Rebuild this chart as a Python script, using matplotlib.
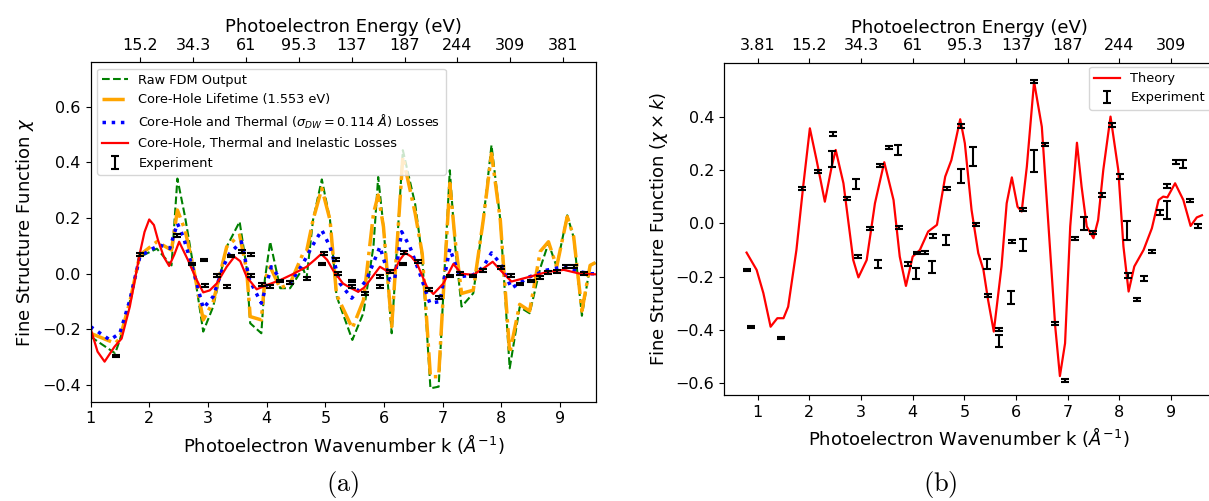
import numpy as np
import matplotlib
matplotlib.use("Agg")
import matplotlib.pyplot as plt

plt.rcParams['mathtext.fontset'] = 'dejavusans'

# ---------------- Data: panel (a) ----------------
k_fdm = [1.0, 1.42, 1.5, 1.67, 1.84, 2.13, 2.38, 2.48, 2.61, 2.75, 2.92, 3.09, 3.32, 3.54,
         3.66, 3.72, 3.91, 3.97, 4.06, 4.23, 4.40, 4.62, 4.68, 4.79, 4.94, 5.08, 5.19, 5.46,
         5.65, 5.82, 5.90, 5.99, 6.13, 6.32, 6.53, 6.65, 6.79, 6.93, 7.01, 7.12, 7.21, 7.32,
         7.52, 7.69, 7.83, 7.98, 8.14, 8.31, 8.48, 8.66, 8.80, 8.94, 9.12, 9.23, 9.37, 9.51, 9.6]
raw_fdm = [-0.226, -0.286, -0.238, -0.10, 0.061, 0.09, 0.03, 0.342, 0.205, 0.03, -0.208, -0.118,
           0.097, 0.187, 0.02, -0.178, -0.214, -0.02, 0.115, -0.052, -0.052, 0.02, -0.017, 0.193,
           0.339, 0.193, -0.08, -0.238, -0.14, 0.10, 0.348, 0.17, -0.214, 0.444, 0.25, 0.06,
           -0.412, -0.406, -0.07, 0.372, 0.10, -0.118, -0.07, 0.193, 0.462, 0.193, -0.34, -0.12,
           -0.142, 0.02, 0.11, 0.025, 0.21, 0.13, -0.151, 0.03, 0.04]
core_hole = [-0.214, -0.25, -0.233, -0.101, 0.067, 0.115, 0.085, 0.229, 0.157, 0.025, -0.166,
             -0.101, 0.097, 0.139, 0.013, -0.154, -0.166, -0.02, 0.025, -0.052, -0.035, 0.073,
             0.08, 0.193, 0.307, 0.193, -0.075, -0.196, -0.095, 0.217, 0.283, 0.169, -0.19, 0.42,
             0.217, 0.073, -0.37, -0.37, -0.071, 0.325, 0.121, -0.071, -0.059, 0.193, 0.432,
             0.193, -0.286, -0.11, -0.134, 0.08, 0.115, 0.025, 0.205, 0.133, -0.134, 0.03, 0.04]

k_thermal = [1.0, 1.33, 1.50, 1.67, 1.84, 2.01, 2.18, 2.35, 2.48, 2.58, 2.75, 2.92, 3.09, 3.26,
             3.37, 3.57, 3.71, 3.91, 4.08, 4.25, 4.40, 4.62, 4.77, 4.94, 5.08, 5.25, 5.45, 5.70,
             5.93, 6.10, 6.18, 6.30, 6.44, 6.61, 6.78, 6.95, 7.12, 7.29, 7.52, 7.69, 7.83, 7.98,
             8.17, 8.48, 8.77, 9.06, 9.34, 9.51, 9.6]
thermal = [-0.19, -0.238, -0.214, -0.095, 0.061, 0.085, 0.103, 0.091, 0.181, 0.133, 0.013,
           -0.124, -0.082, 0.025, 0.073, 0.115, -0.023, -0.106, 0.025, -0.023, -0.035, 0.037,
           0.097, 0.157, 0.097, -0.035, -0.088, -0.023, 0.097, -0.023, -0.02, 0.151, 0.097, 0.0,
           -0.106, -0.100, 0.091, -0.011, -0.004, 0.025, 0.075, 0.037, -0.052, -0.011, 0.013,
           0.025, 0.007, 0.0, 0.0]

k_inel = [1.0, 1.12, 1.24, 1.41, 1.53, 1.67, 1.84, 1.92, 2.0, 2.08, 2.15, 2.25, 2.34, 2.43, 2.51,
          2.66, 2.81, 2.92, 3.03, 3.15, 3.32, 3.45, 3.55, 3.66, 3.83, 4.0, 4.23, 4.45, 4.68,
          4.82, 4.93, 5.03, 5.13, 5.30, 5.42, 5.56, 5.66, 5.76, 5.93, 6.04, 6.18, 6.27, 6.36,
          6.46, 6.56, 6.73, 6.84, 7.01, 7.18, 7.32, 7.52, 7.69, 7.85, 7.98, 8.17, 8.48, 8.77,
          9.06, 9.34, 9.6]
inel = [-0.196, -0.28, -0.316, -0.262, -0.233, -0.118, 0.073, 0.15, 0.195, 0.175, 0.121, 0.06,
        0.028, 0.07, 0.115, 0.049, -0.023, -0.067, -0.06, -0.035, 0.025, 0.061, 0.045, -0.011,
        -0.056, -0.041, -0.023, -0.001, 0.025, 0.05, 0.071, 0.05, 0.013, -0.035, -0.05, -0.065,
        -0.05, -0.023, 0.025, 0.011, 0.013, 0.05, 0.075, 0.062, 0.037, -0.047, -0.073, -0.035,
        0.035, 0.0, -0.004, 0.019, 0.043, 0.013, -0.028, -0.011, 0.006, 0.014, 0.0, -0.002]

k_exp_a = [1.44, 1.84, 2.48, 2.73, 2.93, 2.95, 3.15, 3.33, 3.39, 3.58, 3.73, 3.74, 3.92, 4.06,
           4.23, 4.40, 4.68, 4.94, 4.97, 5.19, 5.22, 5.45, 5.46, 5.67, 5.93, 5.93, 6.10, 6.34,
           6.33, 6.57, 6.76, 6.94, 7.13, 7.29, 7.52, 7.68, 8.0, 8.17, 8.32, 8.51, 8.65, 8.80,
           8.94, 9.10, 9.23, 9.40]
exp_a = [-0.296, 0.07, 0.137, 0.035, 0.049, -0.043, -0.007, -0.046, 0.064, 0.079, 0.07, -0.007,
         -0.038, -0.046, -0.026, -0.032, -0.017, 0.035, 0.074, 0.05, 0.0, -0.026, -0.046, -0.07,
         -0.01, -0.046, 0.007, 0.077, 0.035, 0.043, -0.056, -0.085, -0.008, 0.0, -0.008, 0.011,
         0.022, -0.005, -0.037, -0.026, -0.014, 0.004, 0.007, 0.025, 0.025, 0.0]

energy_ticks_a = [2, 3, 4, 5, 6, 7, 8, 9, 10]
energy_labels_a = ['15.2', '34.3', '61', '95.3', '137', '187', '244', '309', '381']

# ---------------- Data: panel (b) ----------------
k_theory = [0.785, 0.98, 1.11, 1.25, 1.38, 1.50, 1.59, 1.75, 1.88, 2.01, 2.14, 2.30, 2.43, 2.51,
            2.66, 2.85, 2.95, 3.11, 3.27, 3.45, 3.63, 3.75, 3.87, 4.00, 4.14, 4.30, 4.47, 4.63,
            4.75, 4.92, 5.01, 5.14, 5.27, 5.37, 5.46, 5.57, 5.72, 5.82, 5.92, 6.03, 6.11, 6.21,
            6.35, 6.50, 6.63, 6.76, 6.85, 6.95, 7.05, 7.18, 7.27, 7.37, 7.50, 7.59, 7.69, 7.83,
            7.98, 8.08, 8.18, 8.29, 8.47, 8.63, 8.76, 8.85, 8.93, 9.08, 9.24, 9.38, 9.50, 9.60]
theory = [-0.110, -0.175, -0.262, -0.388, -0.356, -0.356, -0.313, -0.10, 0.137, 0.356, 0.237,
          0.081, 0.21, 0.275, 0.15, -0.138, -0.203, -0.138, 0.075, 0.229, 0.087, -0.125, -0.235,
          -0.125, -0.10, -0.031, -0.006, 0.175, 0.237, 0.39, 0.30, 0.05, -0.112, -0.175, -0.288,
          -0.406, -0.162, 0.075, 0.172, 0.062, 0.044, 0.212, 0.531, 0.362, -0.012, -0.388,
          -0.573, -0.45, -0.012, 0.302, 0.137, -0.012, -0.056, 0.012, 0.20, 0.40, 0.20, -0.087,
          -0.256, -0.162, -0.10, -0.019, 0.087, 0.10, 0.097, 0.15, 0.087, -0.010, 0.022, 0.03]

k_exp_b = [0.80, 0.88, 1.45, 1.85, 2.17, 2.46, 2.43, 2.72, 2.91, 2.95, 3.17, 3.33, 3.37, 3.55,
           3.72, 3.73, 3.91, 4.08, 4.06, 4.24, 4.37, 4.40, 4.64, 4.66, 4.93, 4.93, 5.17, 5.22,
           5.44, 5.46, 5.68, 5.68, 5.92, 5.90, 6.13, 6.13, 6.35, 6.34, 6.56, 6.76, 6.95, 7.14,
           7.32, 7.50, 7.67, 7.85, 8.01, 8.15, 8.17, 8.34, 8.48, 8.64, 8.79, 8.93, 8.93, 9.09,
           9.24, 9.37, 9.52]
exp_b = [-0.175, -0.390, -0.429, 0.131, 0.194, 0.335, 0.24, 0.094, 0.148, -0.125, -0.019,
         -0.153, 0.216, 0.285, 0.275, -0.017, -0.153, -0.112, -0.188, -0.109, -0.163, -0.048,
         -0.063, 0.131, 0.365, 0.177, 0.25, -0.006, -0.153, -0.271, -0.397, -0.441, -0.069,
         -0.278, 0.053, -0.082, 0.531, 0.234, 0.294, -0.375, -0.590, -0.056, 0.0, -0.035, 0.106,
         0.369, 0.175, -0.028, -0.196, -0.285, -0.207, -0.106, 0.040, 0.140, 0.050, 0.231,
         0.222, 0.085, -0.009]
err_b = [0.005, 0.004, 0.004, 0.005, 0.006, 0.006, 0.03, 0.005, 0.018, 0.005, 0.006, 0.015,
         0.005, 0.006, 0.018, 0.006, 0.006, 0.005, 0.02, 0.005, 0.022, 0.006, 0.02, 0.006,
         0.008, 0.025, 0.035, 0.006, 0.018, 0.006, 0.006, 0.022, 0.005, 0.025, 0.006, 0.022,
         0.006, 0.04, 0.006, 0.006, 0.006, 0.006, 0.025, 0.006, 0.006, 0.008, 0.008, 0.035,
         0.008, 0.006, 0.008, 0.006, 0.008, 0.006, 0.035, 0.008, 0.015, 0.006, 0.008]

energy_ticks_b = [1, 2, 3, 4, 5, 6, 7, 8, 9]
energy_labels_b = ['3.81', '15.2', '34.3', '61', '95.3', '137', '187', '244', '309']

# ---------------- Figure ----------------
W, H = 1209, 501
fig = plt.figure(figsize=(W / 100, H / 100), dpi=100)

def px_axes(x0, x1, ytop, ybot):
    return [x0 / W, 1 - ybot / H, (x1 - x0) / W, (ybot - ytop) / H]

TICK_FS = 11.5
LAB_FS = 13
LEG_FS = 9.3

# Panel (a)
ax = fig.add_axes(px_axes(90.5, 596, 62.3, 401.7))
ax.plot(k_fdm, raw_fdm, '--', color='green', lw=1.5, label='Raw FDM Output')
ax.plot(k_fdm, core_hole, '-.', color='orange', lw=2.5, label='Core-Hole Lifetime (1.553 eV)')
ax.plot(k_thermal, thermal, ':', color='blue', lw=2.5,
        label=r'Core-Hole and Thermal ($\sigma_{DW} = 0.114$ $\AA$) Losses')
ax.plot(k_inel, inel, '-', color='red', lw=1.6,
        label='Core-Hole, Thermal and Inelastic Losses')
ax.errorbar(k_exp_a, exp_a, yerr=0.005, fmt='none', ecolor='black', elinewidth=1.5,
            capsize=3, capthick=1.5, label='Experiment')
ax.set_xlim(1.0, 9.61)
ax.set_ylim(-0.46, 0.76)
ax.set_xticks([1, 2, 3, 4, 5, 6, 7, 8, 9])
ax.set_yticks([-0.4, -0.2, 0.0, 0.2, 0.4, 0.6])
ax.tick_params(labelsize=TICK_FS)
ax.set_xlabel(r'Photoelectron Wavenumber k ($\AA^{-1}$)', fontsize=LAB_FS)
ax.set_ylabel(r'Fine Structure Function $\chi$', fontsize=LAB_FS)
ax.legend(loc='upper left', fontsize=LEG_FS, handlelength=2.0)
axt = ax.twiny()
axt.set_xlim(1.063, 10.62)
axt.set_xticks(energy_ticks_a)
axt.set_xticklabels(energy_labels_a)
axt.tick_params(labelsize=TICK_FS)
axt.set_xlabel('Photoelectron Energy (eV)', fontsize=LAB_FS)

# Panel (b)
bx = fig.add_axes(px_axes(724, 1214, 63, 395))
bx.plot(k_theory, theory, '-', color='red', lw=1.6, label='Theory')
bx.errorbar(k_exp_b, exp_b, yerr=err_b, fmt='none', ecolor='black', elinewidth=1.5,
            capsize=3, capthick=1.5, label='Experiment')
bx.set_xlim(0.348, 9.833)
bx.set_ylim(-0.644, 0.601)
bx.set_xticks([1, 2, 3, 4, 5, 6, 7, 8, 9])
bx.set_yticks([-0.6, -0.4, -0.2, 0.0, 0.2, 0.4])
bx.tick_params(labelsize=TICK_FS)
bx.set_xlabel(r'Photoelectron Wavenumber k ($\AA^{-1}$)', fontsize=LAB_FS)
bx.set_ylabel(r'Fine Structure Function ($\chi \times k$)', fontsize=LAB_FS)
bx.legend(loc='upper right', fontsize=LEG_FS, borderaxespad=0.3)
bxt = bx.twiny()
bxt.set_xlim(bx.get_xlim())
bxt.set_xticks(energy_ticks_b)
bxt.set_xticklabels(energy_labels_b)
bxt.tick_params(labelsize=TICK_FS)
bxt.set_xlabel('Photoelectron Energy (eV)', fontsize=LAB_FS)

# Captions
fig.text(343 / W, 1 - 484 / H, r'$\mathrm{(a)}$', fontsize=19, math_fontfamily='cm',
         ha='center', va='center')
fig.text(940 / W, 1 - 484 / H, r'$\mathrm{(b)}$', fontsize=19, math_fontfamily='cm',
         ha='center', va='center')

fig.savefig('out.png', dpi=100)
